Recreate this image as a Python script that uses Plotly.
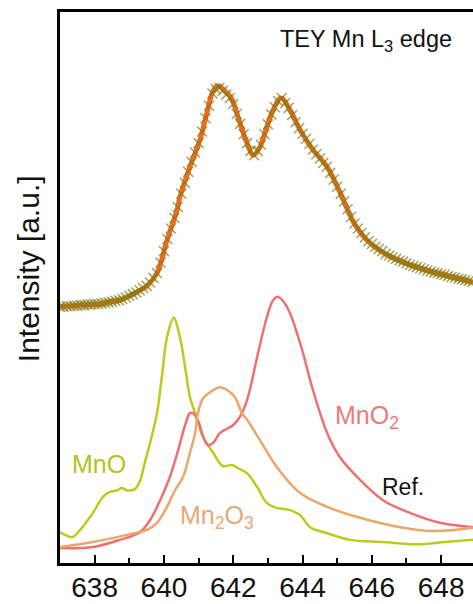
import numpy as np
import plotly.graph_objects as go

# Measured TEY spectrum (sampled every 0.1 eV from 637.0 to 648.9)
tey_energy = np.round(np.arange(637.0, 648.95, 0.1), 2)
tey_intensity = [
    46.5, 46.5, 46.6, 46.6, 46.7, 46.7, 46.8, 46.8, 46.9, 46.9,
    47.0, 47.0, 47.1, 47.2, 47.3, 47.4, 47.6, 47.7, 47.9, 48.2,
    48.5, 48.8, 49.1, 49.5, 49.9, 50.3, 50.9, 51.7, 52.6, 54.5,
    56.6, 58.8, 60.7, 62.6, 64.6, 67.0, 69.0, 71.0, 72.8, 74.5,
    76.2, 78.3, 80.7, 83.0, 85.2, 86.0, 86.2, 85.7, 85.0, 84.4,
    83.3, 81.5, 79.7, 77.8, 76.2, 74.8, 74.0, 74.8, 75.9, 77.8,
    79.6, 81.4, 82.7, 83.8, 84.4, 83.5, 82.6, 81.3, 80.0, 78.9,
    77.9, 77.0, 76.1, 75.0, 74.2, 73.4, 72.6, 71.9, 70.8, 69.6,
    68.3, 67.0, 65.6, 64.2, 62.8, 61.6, 60.7, 59.9, 59.1, 58.4,
    57.9, 57.4, 57.0, 56.6, 56.1, 55.8, 55.5, 55.2, 54.9, 54.7,
    54.4, 54.1, 53.9, 53.7, 53.5, 53.3, 53.1, 52.9, 52.7, 52.6,
    52.4, 52.3, 52.1, 51.9, 51.8, 51.6, 51.5, 51.3, 51.2, 51.0,
]

# Fit of the TEY spectrum
fit_energy = [637.00, 637.58, 638.15, 638.44, 638.73, 639.02, 639.31, 639.51, 639.80,
              640.09, 640.38, 640.46, 640.75, 641.04, 641.24, 641.42, 641.56, 641.82,
              641.96, 642.19, 642.40, 642.57, 642.77, 642.97, 643.15, 643.38, 643.64,
              643.93, 644.30, 644.71, 645.08, 645.46, 645.86, 646.44, 647.10, 647.76, 648.92]
fit_intensity = [46.5, 46.8, 47.0, 47.4, 47.7, 48.5, 49.5, 50.3, 52.6,
                 58.6, 64.1, 66.4, 71.9, 76.8, 81.7, 85.7, 86.6, 85.3,
                 84.2, 79.9, 76.2, 74.0, 75.5, 79.1, 82.2, 84.4, 82.2,
                 78.6, 75.0, 71.9, 67.3, 62.0, 58.6, 55.9, 54.1, 52.8, 51.0]

# Reference spectra
mno_energy = [637.00, 637.35, 637.58, 637.95, 638.24, 638.44, 638.65, 638.79, 638.93, 639.16,
              639.31, 639.45, 639.60, 639.80, 639.94, 640.09, 640.28, 640.46, 640.61, 640.75,
              640.90, 641.13, 641.42, 641.70, 641.96, 642.14, 642.40, 642.69, 642.97, 643.26,
              643.64, 643.93, 644.22, 644.71, 645.37, 646.32, 647.30, 648.11, 648.92]
mno_intensity = [5.6, 4.7, 6.0, 9.1, 12.0, 12.9, 13.2, 13.6, 13.2, 13.4,
                 14.9, 18.3, 21.8, 27.2, 33.8, 41.0, 44.5, 41.0, 35.6, 30.1,
                 27.2, 22.9, 20.0, 17.6, 17.8, 17.2, 16.3, 13.8, 10.9, 10.0,
                 9.6, 8.7, 6.5, 5.4, 4.2, 3.8, 3.4, 3.8, 4.2]

mno2_energy = [637.00, 637.95, 638.73, 639.31, 639.60, 639.89, 640.17, 640.41, 640.61, 640.75,
               640.84, 641.00, 641.13, 641.27, 641.42, 641.62, 641.99, 642.19, 642.40, 642.69,
               642.97, 643.15, 643.29, 643.55, 643.93, 644.30, 644.71, 645.08, 645.66, 646.32,
               647.10, 647.97, 648.92]
mno2_intensity = [2.7, 2.9, 4.2, 5.6, 7.8, 11.4, 15.6, 20.5, 25.0, 27.2,
                  27.2, 25.6, 22.9, 21.4, 21.8, 23.6, 25.0, 26.5, 29.6, 37.4,
                  44.6, 47.7, 48.3, 46.5, 39.9, 31.4, 23.6, 19.2, 15.1, 11.4,
                  9.1, 7.3, 6.5]

mn2o3_energy = [637.00, 637.95, 638.93, 639.51, 639.80, 640.09, 640.32, 640.55, 640.75, 640.90,
                640.98, 641.13, 641.33, 641.62, 641.82, 642.05, 642.25, 642.40, 642.77, 643.26,
                643.93, 644.71, 645.66, 646.81, 647.76, 648.92]
mn2o3_intensity = [2.9, 3.8, 5.1, 6.0, 7.3, 10.2, 13.2, 15.6, 20.0, 23.6,
                   27.2, 29.9, 31.0, 31.9, 31.4, 30.1, 27.2, 26.0, 22.3, 17.4,
                   12.7, 10.2, 8.2, 6.5, 5.8, 6.4]

x_ticks = [638, 640, 642, 644, 646, 648]
x_minor_ticks = [637, 639, 641, 643, 645, 647]

C_MNO = "#bccb1c"
C_MNO2 = "#ef7070"
C_MN2O3 = "#eca66c"
FONT = "Liberation Sans"

fig = go.Figure()

fig.add_trace(go.Scatter(x=mno_energy, y=mno_intensity, mode="lines",
                         line=dict(color=C_MNO, width=2.5), line_shape="spline"))
fig.add_trace(go.Scatter(x=mno2_energy, y=mno2_intensity, mode="lines",
                         line=dict(color=C_MNO2, width=2.5), line_shape="spline"))
fig.add_trace(go.Scatter(x=mn2o3_energy, y=mn2o3_intensity, mode="lines",
                         line=dict(color=C_MN2O3, width=2.5), line_shape="spline"))

fig.add_trace(go.Scatter(x=fit_energy, y=fit_intensity, mode="lines",
                         line=dict(color="#f26a22", width=5), line_shape="spline"))
fig.add_trace(go.Scatter(x=tey_energy, y=tey_intensity, mode="markers",
                         marker=dict(symbol="x-thin", size=10,
                                     line=dict(width=1.5, color="rgba(125,125,20,0.7)"))))

fig.add_annotation(x=0.955, y=0.949, xref="paper", yref="paper", xanchor="right", yanchor="middle",
                   text="TEY Mn L<sub>3</sub> edge", showarrow=False,
                   font=dict(family=FONT, size=23.5, color="#111"))
fig.add_annotation(x=637.28, y=18.0, xanchor="left", yanchor="middle",
                   text="MnO", showarrow=False, font=dict(family=FONT, size=25, color="#b3c21c"))
fig.add_annotation(x=640.40, y=8.3, xanchor="left", yanchor="middle",
                   text="Mn<sub>2</sub>O<sub>3</sub>", showarrow=False,
                   font=dict(family=FONT, size=25, color="#e9a878"))
fig.add_annotation(x=644.88, y=26.5, xanchor="left", yanchor="middle",
                   text="MnO<sub>2</sub>", showarrow=False, font=dict(family=FONT, size=25, color="#ee7a7a"))
fig.add_annotation(x=646.25, y=13.8, xanchor="left", yanchor="middle",
                   text="Ref.", showarrow=False, font=dict(family=FONT, size=23, color="#111"))
fig.add_annotation(x=-0.0775, y=0.535, xref="paper", yref="paper", xanchor="center", yanchor="middle",
                   text="Intensity [a.u.]", textangle=-90, showarrow=False,
                   font=dict(family=FONT, size=30, color="#111"))

fig.update_layout(
    width=473, height=604,
    margin=dict(l=60, r=0, t=12, b=41),
    paper_bgcolor="white", plot_bgcolor="white",
    showlegend=False,
    xaxis=dict(range=[637.0, 648.92], tickvals=x_ticks, ticks="inside", ticklen=8, tickwidth=2,
               tickcolor="black", showline=True, linecolor="black", linewidth=2.5, mirror=True,
               showgrid=False, zeroline=False, automargin=False, ticklabelstandoff=-2,
               tickfont=dict(family=FONT, size=28, color="#111"),
               minor=dict(tickvals=x_minor_ticks, ticks="inside", ticklen=5,
                          tickwidth=2, tickcolor="black")),
    yaxis=dict(range=[0, 100], showticklabels=False, ticks="", showline=True, linecolor="black",
               linewidth=2.5, showgrid=False, zeroline=False, automargin=False),
)

fig.write_html("out.html")
